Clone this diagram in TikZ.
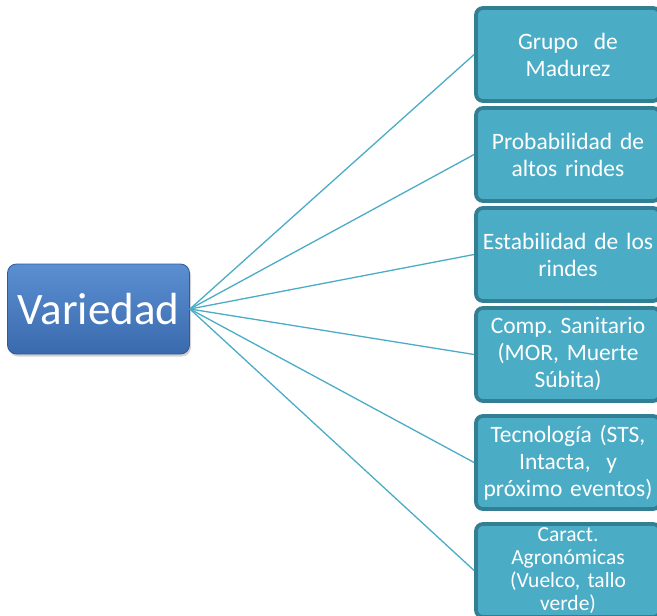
\documentclass[tikz,border=0pt]{standalone}
\usepackage{fontspec}
\setmainfont{Carlito}
\usetikzlibrary{shadows}
\definecolor{tealfill}{HTML}{4BACC6}
\definecolor{tealedge}{HTML}{327F94}
\definecolor{linecol}{HTML}{4BACC6}
\definecolor{bluetop}{HTML}{5B8FD2}
\definecolor{bluebot}{HTML}{3A6AAE}
\definecolor{blueedge}{HTML}{2E5C96}
\tikzset{
  rbox/.style={draw=tealedge, line width=3.8pt, fill=tealfill, rounded corners=7pt,
    minimum width=184pt, minimum height=93pt, text=white, align=center,
    text width=180pt, inner sep=0pt,
    font=\fontsize{23.5}{27}\selectfont\frenchspacing},
  smallbox/.style={rbox, font=\fontsize{21.5}{23}\selectfont\frenchspacing},
  vbox/.style={draw=blueedge, line width=0.8pt, top color=bluetop, bottom color=bluebot,
    rounded corners=9pt, minimum width=182pt, minimum height=90pt, inner sep=0pt,
    text=white, font=\fontsize{45}{50}\selectfont,
    drop shadow={shadow xshift=1.5pt, shadow yshift=-2.5pt, opacity=0.35}},
  conn/.style={draw=linecol, line width=1.3pt}
}
\begin{document}
\begin{tikzpicture}[x=1pt,y=-1pt]
\useasboundingbox (0,0) rectangle (657,616);
\clip (0,0) rectangle (657,616);
\node[vbox] (v) at (98.5,309) {Variedad};
\node[rbox] (b1) at (568,54.5) {Grupo\ \ de\\Madurez};
\node[rbox] (b2) at (568,154.5) {Probabilidad de\\altos rindes};
\node[rbox] (b3) at (568,254.5) {Estabilidad de los\\rindes};
\node[rbox] (b4) at (568,354.5) {Comp. Sanitario\\(MOR, Muerte\\Súbita)};
\node[rbox] (b5) at (568,462.5) {Tecnología (STS,\\Intacta,\ \ y\\próximo eventos)};
\node[smallbox] (b6) at (568,570.5) {Caract.\\Agronómicas\\(Vuelco, tallo\\verde)};
\foreach \b in {b1,b2,b3,b4,b5,b6}{
  \draw[conn] (v.east) -- (\b.west);
}
\end{tikzpicture}
\end{document}
